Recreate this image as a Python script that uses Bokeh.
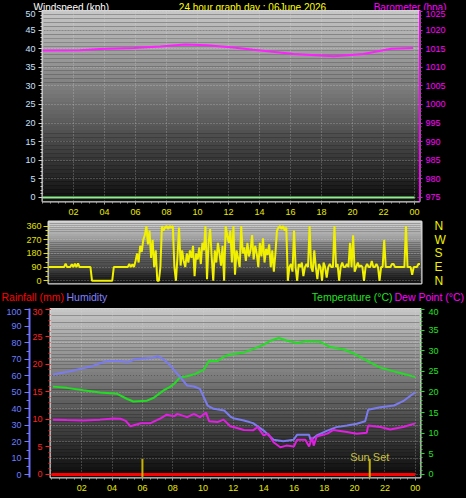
import numpy as np
from bokeh.plotting import figure
from bokeh.models import Range1d, LinearAxis, FixedTicker, Label, Grid
from bokeh.layouts import column
from bokeh.embed import file_html
from bokeh.resources import INLINE
from bokeh.core.properties import value

# ---------------- data ----------------
hour_ticks = [2, 4, 6, 8, 10, 12, 14, 16, 18, 20, 22, 24]
hour_labels = ["02", "04", "06", "08", "10", "12", "14", "16", "18", "20", "22", "00"]

wind_t = [0, 24]
wind_v = [0, 0]

baro_t = [0, 2.4, 3.7, 5.9, 7.6, 9.2, 10.6, 12.3, 13.6, 16.2, 18.8, 20.7, 22.5, 23.9]
baro_v = [1014.5, 1014.6, 1014.9, 1015.2, 1015.6, 1016.1, 1015.9, 1015.3, 1014.7,
          1013.6, 1013.0, 1013.6, 1015.0, 1015.2]

dir_v = [
    90, 90, 90, 90, 90, 90, 90, 90, 90, 90,
    90, 112, 90, 90, 90, 108, 90, 112, 90, 115,
    90, 90, 90, 90, 90, 90, 90, 90, 0, 0,
    0, 0, 0, 0, 0, 0, 0, 0, 0, 0,
    0, 0, 90, 90, 90, 90, 90, 90, 90, 90,
    90, 90, 110, 90, 108, 90, 130, 180, 120, 230,
    190, 270, 300, 360, 240, 330, 150, 270, 90, 200,
    0, 0, 90, 360, 330, 350, 360, 340, 360, 350,
    360, 90, 0, 160, 350, 100, 200, 130, 90, 180,
    120, 200, 150, 230, 30, 180, 140, 220, 110, 250,
    200, 360, 10, 250, 340, 160, 0, 200, 120, 250,
    180, 100, 230, 0, 360, 300, 250, 330, 120, 360,
    40, 200, 150, 90, 360, 180, 220, 130, 250, 160,
    200, 300, 140, 230, 180, 90, 250, 160, 280, 120,
    210, 170, 240, 90, 200, 60, 180, 330, 350, 360,
    340, 360, 330, 350, 0, 90, 110, 60, 330, 90,
    0, 110, 90, 120, 30, 90, 110, 90, 360, 90,
    60, 200, 90, 10, 110, 90, 0, 120, 90, 20,
    90, 110, 90, 90, 360, 90, 110, 0, 90, 120,
    90, 90, 110, 90, 250, 90, 300, 60, 90, 120,
    90, 100, 90, 0, 90, 110, 90, 90, 130, 90,
    90, 110, 90, 0, 90, 90, 270, 90, 90, 90,
    90, 110, 110, 90, 90, 90, 90, 90, 90, 90,
    360, 90, 90, 90, 40, 90, 90, 90, 110, 110,
]
dir_t = [round(i * 0.1, 1) for i in range(len(dir_v))]
dir_ticks = [0, 90, 180, 270, 360]
dir_names = {0: "N", 90: "E", 180: "S", 270: "W", 360: "N"}

hum_t = [0.1, 1.25, 1.9, 2.6, 3.2, 3.7, 4.55, 5.0, 5.5, 6.1, 6.7, 7.0, 7.4, 7.85, 8.2, 8.5,
         8.95, 9.4, 9.8, 10.3, 10.7, 11.4, 11.8, 12.0, 12.7, 13.3, 14.0, 14.65, 15.3, 15.97,
         16.2, 17.0, 17.1, 17.5, 18.2, 18.8, 19.5, 20.15, 20.7, 20.9, 21.7, 22.6, 23.2, 24.0]
hum_v = [60.8, 62.8, 64.2, 65.6, 67.6, 69, 69, 68.2, 70, 70.5, 71, 71.9, 69.9, 66.2, 62.2, 59.2,
         54.1, 53.5, 52.1, 42, 40, 39, 35.3, 34.3, 32.9, 31.3, 26.8, 21.2, 20.4, 21.2,
         24.2, 24.2, 21, 23.8, 26.8, 28.9, 29.9, 30.9, 32.5, 39.4, 41, 42, 44.6, 50]

temp_t = [0.1, 1.0, 2.1, 3.2, 4.3, 5.0, 5.4, 6.3, 6.75, 7.4, 7.85, 8.1, 8.5, 8.95, 9.5, 10.05,
          10.4, 10.95, 11.4, 11.8, 12.7, 13.3, 14.0, 14.5, 15.0, 15.5, 16.2, 16.8, 17.7, 18.4,
          19.3, 19.9, 20.8, 21.7, 22.6, 23.45, 24.0]
temp_v = [21.3, 21.0, 20.4, 19.9, 19.6, 18.3, 17.7, 17.9, 18.6, 20.4, 21.3, 22.0, 23.6, 23.8,
          24.4, 25.4, 27.6, 27.5, 28.6, 29.1, 29.6, 30.4, 31.5, 32.5, 33.1, 32.5, 31.9, 32.3,
          32.2, 30.9, 30.3, 29.4, 27.6, 25.9, 25.0, 24.2, 23.6]

dew_t = [0.1, 1.0, 2.1, 3.2, 4.1, 4.55, 4.9, 5.2, 5.9, 6.5, 7.2, 7.6, 8.1, 8.3, 8.95, 9.4, 9.8,
         10.2, 10.4, 10.95, 11.35, 11.8, 12.0, 12.7, 13.3, 13.6, 14.0, 14.3, 14.65, 15.1, 15.5,
         16.0, 16.2, 16.75, 17.0, 17.2, 17.3, 17.5, 18.2, 18.6, 19.5, 20.15, 20.8, 20.9, 21.7,
         22.35, 23.2, 24.0]
dew_v = [13.3, 13.2, 13.1, 13.3, 13.6, 13.5, 13.0, 11.7, 12.4, 12.4, 13.6, 14.5, 14.1, 14.7,
         13.9, 14.7, 13.9, 15.0, 12.9, 12.7, 13.3, 11.7, 11.5, 10.8, 10.7, 11.5, 9.5, 9.9, 7.8,
         6.6, 7.0, 6.8, 8.4, 8.4, 6.8, 9.0, 7.0, 9.2, 9.9, 10.8, 10.3, 9.9, 10.1, 11.9, 11.5,
         10.9, 11.5, 12.4]

rain_t = [0, 24]
rain_v = [0, 0]

sun_t = [6.0, 21.0]
sun_text = ["", "Sun Set"]

top_titles = ["Windspeed (kph)", "24 hour graph day : 06June 2026", "Barometer (hpa)"]
bottom_titles = ["Rainfall (mm)", "Humidity", "Temperature (\u00b0C)", "Dew Point (\u00b0C)"]

FONT = "Liberation Sans"


def gradient(p, xr, yr, top_rgb, bot_rgb, n=48):
    edges = np.linspace(yr.start, yr.end, n + 1)
    cols = []
    for i in range(n):
        f = (i + 0.5) / n
        c = tuple(int(b + (t - b) * f) for t, b in zip(top_rgb, bot_rgb))
        cols.append("#%02x%02x%02x" % c)
    p.quad(left=xr.start, right=xr.end, bottom=edges[:-1], top=edges[1:],
           fill_color=cols, line_color=None, level="image")


def style_axis(ax, color, tick_color=None, size="9px", out=4, minor_out=2, standoff=3):
    tick_color = tick_color or color
    ax.major_label_text_color = color
    ax.major_label_text_font = FONT
    ax.major_label_text_font_size = size
    ax.major_label_standoff = standoff
    ax.major_tick_line_color = tick_color
    ax.minor_tick_line_color = tick_color
    ax.major_tick_out = out
    ax.major_tick_in = 0
    ax.minor_tick_out = minor_out
    ax.minor_tick_in = 0


def style_grid(g):
    g.grid_line_color = "#e0e0e0"
    g.grid_line_alpha = 0.45
    g.grid_line_dash = "1 2"


def common(**kw):
    return dict(output_backend="svg", toolbar_location=None, background_fill_color="black",
                border_fill_color="black", outline_line_color="#d8d8d8", outline_line_width=2,
                frame_align=False, **kw)


def header(height, xs, ys, texts, colors, aligns, baseline, size):
    h = figure(width=466, height=height, x_range=Range1d(0, 466), y_range=Range1d(0, height),
               output_backend="svg", toolbar_location=None, min_border=0,
               min_border_left=0, min_border_right=0, min_border_top=0, min_border_bottom=0,
               background_fill_color="black", border_fill_color="black",
               outline_line_color=None, frame_align=False)
    h.axis.visible = False
    h.grid.visible = False
    for x, y, t, c, a in zip(xs, ys, texts, colors, aligns):
        h.text(x=[x], y=[y], text=[t], text_color=c, text_font=value(FONT),
               text_font_size=size, text_align=a, text_baseline=baseline)
    return h


# ---------------- header 1 ----------------
h1 = header(10, [33, 252, 446], [5, 5, 5], top_titles,
            ["#ffffff", "#ffff00", "#ff00ff"], ["left", "center", "right"],
            "middle", "10px")

# ---------------- panel 1: wind speed / barometer ----------------
x1 = Range1d(0, 24.32)
y1 = Range1d(-1.08, 50.27)
p1 = figure(width=466, height=208, x_range=x1, y_range=y1,
            min_border_left=42, min_border_right=47, min_border_top=0, min_border_bottom=17,
            **common())
p1.extra_y_ranges = {"baro": Range1d(973.92, 1025.27)}
gradient(p1, x1, y1, (200, 200, 200), (14, 14, 14))

p1.xaxis.ticker = FixedTicker(ticks=hour_ticks, minor_ticks=[i * 0.5 for i in range(49)])
p1.xaxis.major_label_overrides = dict(zip(hour_ticks, hour_labels))
style_axis(p1.xaxis[0], "#e8e800", tick_color="#a0a0a0", out=3, minor_out=2, standoff=4)
p1.xaxis.axis_line_color = None
p1.xgrid.ticker = p1.xaxis[0].ticker

p1.yaxis.ticker = FixedTicker(ticks=list(range(0, 51, 5)), minor_ticks=list(range(0, 51)))
style_axis(p1.yaxis[0], "#c8e0ff", tick_color="#d0d0d0", out=4, minor_out=2, standoff=3)
p1.yaxis.axis_line_color = None
p1.ygrid.ticker = p1.yaxis[0].ticker
style_grid(p1.xgrid[0])
style_grid(p1.ygrid[0])

baro_axis = LinearAxis(y_range_name="baro",
                       ticker=FixedTicker(ticks=list(range(975, 1026, 5)),
                                          minor_ticks=list(range(975, 1026))))
style_axis(baro_axis, "#ff00ff", out=3, minor_out=2, standoff=3)
baro_axis.axis_line_color = "#ff00ff"
p1.add_layout(baro_axis, "right")

p1.line(wind_t, wind_v, line_color="#90ee90", line_width=2)
p1.line(baro_t, baro_v, y_range_name="baro", line_color="#ff20ff", line_width=2)

# ---------------- panel 2: wind direction ----------------
x2 = Range1d(0, 24)
y2 = Range1d(-18, 390)
p2 = figure(width=466, height=70, x_range=x2, y_range=y2,
            min_border_left=48, min_border_right=45, min_border_top=3, min_border_bottom=5,
            **common())
gradient(p2, x2, y2, (210, 210, 210), (20, 20, 20), n=30)
p2.xaxis.visible = False
p2.xgrid.visible = False
p2.yaxis.ticker = FixedTicker(ticks=dir_ticks, minor_ticks=list(range(0, 361, 30)))
style_axis(p2.yaxis[0], "#e0e000", out=5, minor_out=3, standoff=2)
p2.yaxis.axis_line_color = None
p2.ygrid.ticker = p2.yaxis[0].ticker
style_grid(p2.ygrid[0])

dir_axis = LinearAxis(ticker=FixedTicker(ticks=dir_ticks), major_label_overrides=dir_names)
style_axis(dir_axis, "#f0f000", size="12px", out=0, minor_out=0, standoff=13)
dir_axis.axis_line_color = None
dir_axis.major_tick_line_color = None
dir_axis.minor_tick_line_color = None
p2.add_layout(dir_axis, "right")

p2.line(dir_t, dir_v, line_color="#f0f000", line_width=2)

# ---------------- header 3 ----------------
h3 = header(20, [1, 66, 392, 394], [11.5, 11.5, 11.5, 11.5], bottom_titles,
            ["#ff0000", "#8080ff", "#22e022", "#ff00ff"], ["left", "left", "right", "left"],
            "middle", "10.5px")

# ---------------- panel 3: rain / humidity / temperature / dew point ----------------
x3 = Range1d(-0.066, 24.35)
y3 = Range1d(-0.55, 30.18)
p3 = figure(width=466, height=190, x_range=x3, y_range=y3,
            min_border_left=50, min_border_right=46, min_border_top=0, min_border_bottom=21,
            **common())
p3.extra_y_ranges = {"hum": Range1d(-1.64, 100.8), "temp": Range1d(-0.73, 40.24)}
gradient(p3, x3, y3, (200, 200, 200), (10, 10, 10))

p3.xaxis.ticker = FixedTicker(ticks=hour_ticks, minor_ticks=[i * 0.5 for i in range(49)])
p3.xaxis.major_label_overrides = dict(zip(hour_ticks, hour_labels))
style_axis(p3.xaxis[0], "#e8e800", tick_color="#a0a0a0", out=3, minor_out=2, standoff=4)
p3.xaxis.axis_line_color = None
p3.xgrid.ticker = p3.xaxis[0].ticker
style_grid(p3.xgrid[0])

p3.yaxis.ticker = FixedTicker(ticks=list(range(0, 31, 5)), minor_ticks=list(range(0, 31)))
style_axis(p3.yaxis[0], "#ff2020", out=5, minor_out=2, standoff=3)
p3.yaxis.axis_line_color = None
p3.ygrid.visible = False

hum_axis = LinearAxis(y_range_name="hum",
                      ticker=FixedTicker(ticks=list(range(0, 101, 10)),
                                         minor_ticks=list(range(0, 101, 5))))
style_axis(hum_axis, "#6e7eff", out=5, minor_out=3, standoff=3)
hum_axis.axis_line_color = "#6e6eff"
hum_axis.axis_line_width = 2
p3.add_layout(hum_axis, "left")
hum_grid = Grid(dimension=1, ticker=hum_axis.ticker, y_range_name="hum")
style_grid(hum_grid)
p3.add_layout(hum_grid)

temp_axis = LinearAxis(y_range_name="temp",
                       ticker=FixedTicker(ticks=list(range(0, 41, 5)),
                                          minor_ticks=list(range(0, 41))))
style_axis(temp_axis, "#22e022", out=4, minor_out=2, standoff=4)
temp_axis.axis_line_color = None
p3.add_layout(temp_axis, "right")

p3.line(temp_t, temp_v, y_range_name="temp", line_color="#22dd22", line_width=2)
p3.line(hum_t, hum_v, y_range_name="hum", line_color="#7b7bf0", line_width=2)
p3.line(dew_t, dew_v, y_range_name="temp", line_color="#e020e0", line_width=2)
p3.line(rain_t, rain_v, line_color="#ff0000", line_width=3)

p3.segment(x0=sun_t, y0=[y3.start] * len(sun_t), x1=sun_t, y1=[2.8] * len(sun_t),
           line_color="#c8b400", line_width=2)
for t, s in zip(sun_t, sun_text):
    if s:
        p3.add_layout(Label(x=t, y=3.1, text=s, text_color="#c8c040", text_font=FONT,
                            text_font_size="11px", text_align="center",
                            text_baseline="middle"))

layout = column(h1, p1, p2, h3, p3, spacing=0)

html = file_html(layout, INLINE)
html = html.replace("<head>", "<head><style>html,body{margin:0;padding:0;background:#000;overflow:hidden}</style>", 1)
open("out.html", "w").write(html)
